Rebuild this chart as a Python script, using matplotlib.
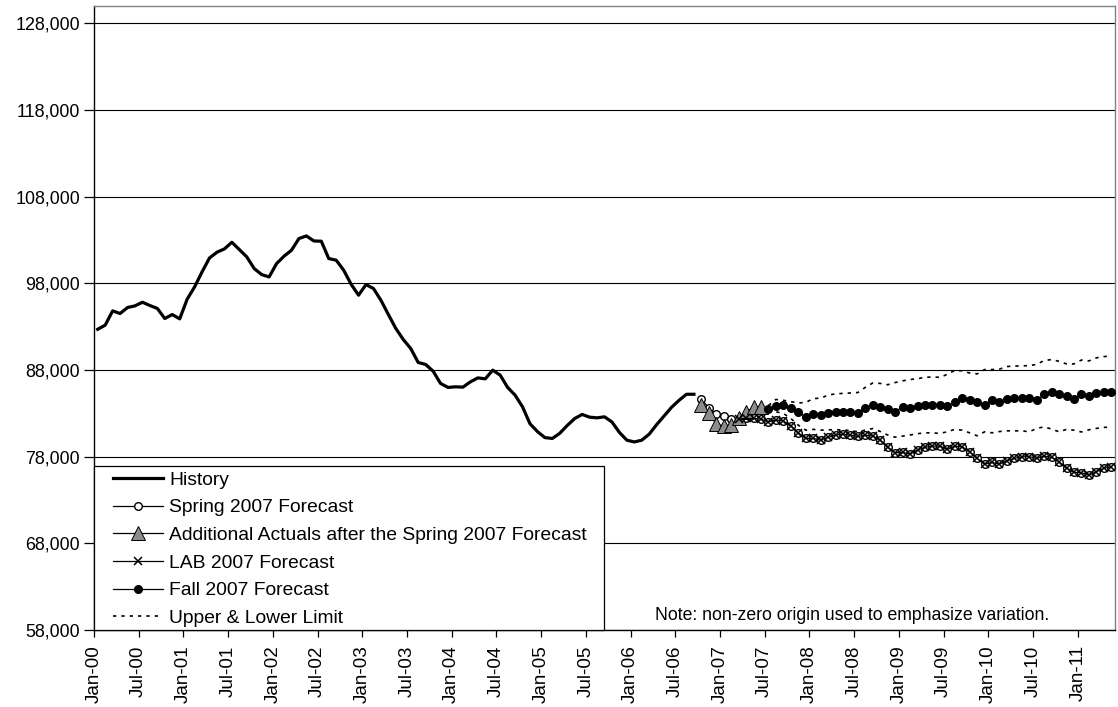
import matplotlib
matplotlib.use("Agg")
import matplotlib.pyplot as plt
from matplotlib.patches import Rectangle
import pandas as pd

plt.rcParams['font.family'] = ['Liberation Sans', 'DejaVu Sans']

# ---- Data ----
months = pd.date_range("2000-01-01", periods=137, freq="MS")
month_labels = [d.strftime("%b-%y") for d in months]

history_start = 0
history = [92700, 93170, 94820, 94520, 95210, 95400, 95820, 95440, 95100, 93940,
           94400, 93900, 96170, 97590, 99320, 100930, 101590, 101970, 102740, 101900,
           101050, 99700, 99010, 98740, 100280, 101130, 101820, 103170, 103470, 102890,
           102860, 100860, 100670, 99520, 97900, 96630, 97860, 97400, 96050, 94400,
           92790, 91520, 90480, 88870, 88640, 87870, 86450, 85990, 86060, 86020,
           86630, 87090, 86980, 87980, 87410, 85990, 85100, 83750, 81800, 80900,
           80200, 80100, 80700, 81600, 82400, 82870, 82560, 82480, 82600, 82000,
           80800, 79900, 79700, 79900, 80600, 81700, 82700, 83700, 84500, 85200,
           85200]

spring_start = 81
spring_2007 = [84600, 83650, 82900, 82700, 82300, 82350, 82410, 82410, 82330, 82020,
               82220, 82140, 81530, 80750, 80110, 80110, 79910, 80220, 80490, 80600,
               80490, 80330, 80490, 80370, 79910, 79070, 78450, 78490, 78300, 78760,
               79070, 79220, 79220, 78840, 79220, 79140, 78560, 77800, 77140, 77340,
               77140, 77520, 77800, 77990, 77990, 77800, 78070, 77920, 77410, 76650,
               76190, 76140, 75870, 76260, 76650, 76830]

actuals_start = 81
additional_actuals = [83950, 83000, 81760, 81530, 81640, 82410, 83180, 83680, 83680]

lab_start = 86
lab_2007 = [82350, 82410, 82410, 82330, 82020,
            82220, 82140, 81530, 80750, 80110, 80110, 79910, 80220, 80490, 80600,
            80490, 80330, 80490, 80370, 79910, 79070, 78450, 78490, 78300, 78760,
            79070, 79220, 79220, 78840, 79220, 79140, 78560, 77800, 77140, 77340,
            77140, 77520, 77800, 77990, 77990, 77800, 78070, 77920, 77410, 76650,
            76190, 76140, 75870, 76260, 76650, 76830]

fall_start = 90
fall_2007 = [83490, 83900, 83950, 83570, 83180, 82560, 82950, 82800, 83080, 83180,
             83180, 83180, 83060, 83620, 83950, 83750, 83450, 83180, 83750, 83570,
             83830, 84000, 83950, 83950, 83830, 84330, 84720, 84520, 84260, 83950,
             84520, 84330, 84600, 84720, 84720, 84720, 84520, 85180, 85410, 85220,
             84980, 84640, 85220, 84980, 85300, 85410, 85410]

limits_start = 90
upper_limit = [83900, 84600, 84500, 84350, 84200, 84250, 84700, 84750, 85100, 85250,
               85300, 85350, 85400, 86000, 86500, 86450, 86300, 86550, 86750, 86900,
               87000, 87150, 87200, 87150, 87500, 87950, 87900, 87650, 87550, 88050,
               88050, 88100, 88400, 88450, 88480, 88500, 88650, 89100, 89200, 89000,
               88700, 88700, 89150, 89050, 89400, 89550, 89600]
lower_limit = [83500, 83180, 82990, 82410, 81640, 81060, 81150, 81060, 81100, 81100,
               81100, 81000, 80870, 81060, 81250, 80900, 80500, 80250, 80370, 80500,
               80650, 80750, 80750, 80680, 80870, 81150, 81060, 80750, 80410, 80870,
               80750, 80900, 80980, 80980, 80980, 80870, 81260, 81440, 81180, 80870,
               81150, 81060, 80850, 81100, 81260, 81380, 81400]

y_ticks = [58000, 68000, 78000, 88000, 98000, 108000, 118000, 128000]

# ---- Figure ----
W, H = 1118, 707
AX_L, AX_R, AX_T, AX_B = 94, 1115, 6, 630
FS = 13.9
fig = plt.figure(figsize=(W / 100, H / 100), dpi=100)
ax = fig.add_axes([AX_L / W, 1 - AX_B / H, (AX_R - AX_L) / W, (AX_B - AX_T) / H])
AW, AH = AX_R - AX_L, AX_B - AX_T

def xs(start, vals):
    return list(range(start, start + len(vals)))

ax.plot(xs(history_start, history), history, color='black', lw=2.3,
        solid_joinstyle='round', label='History', zorder=3)
ax.plot(xs(spring_start, spring_2007), spring_2007, color='black', lw=0.9,
        marker='o', markersize=5.5, markerfacecolor='white', markeredgecolor='black',
        markeredgewidth=1.0, label='Spring 2007 Forecast', zorder=4)
ax.plot(xs(actuals_start, additional_actuals), additional_actuals, color='black', lw=0.9,
        marker='^', markersize=10, markerfacecolor='#8c8c8c', markeredgecolor='black',
        markeredgewidth=0.7, label='Additional Actuals after the Spring 2007 Forecast', zorder=5)
ax.plot(xs(lab_start, lab_2007), lab_2007, color='black', lw=0.9,
        marker='x', markersize=5.5, markeredgewidth=1.1,
        label='LAB 2007 Forecast', zorder=6)
ax.plot(xs(fall_start, fall_2007), fall_2007, color='black', lw=0.9,
        marker='o', markersize=5.5, markerfacecolor='black', markeredgecolor='black',
        label='Fall 2007 Forecast', zorder=7)
ax.plot(xs(limits_start, upper_limit), upper_limit, color='black', lw=1.2,
        ls=(0, (2, 3)), label='Upper & Lower Limit', zorder=4)
ax.plot(xs(limits_start, lower_limit), lower_limit, color='black', lw=1.2,
        ls=(0, (2, 3)), zorder=4)

# axes
ax.set_ylim(58000, 130000)
ax.set_yticks(y_ticks)
ax.set_yticklabels([f"{v:,}" for v in y_ticks])
ax.yaxis.grid(True, color='black', lw=0.8)
ax.set_axisbelow(True)

n = len(month_labels)
ax.set_xlim(-0.5, n - 0.5)
tick_idx = list(range(0, n, 6))
ax.set_xticks([i - 0.5 for i in tick_idx])
ax.set_xticklabels([month_labels[i] for i in tick_idx], rotation=90)

ax.tick_params(axis='both', direction='out', width=0.9, colors='black')
ax.tick_params(axis='x', labelsize=13.6, length=5, pad=6)
ax.tick_params(axis='y', labelsize=12.9, length=7, pad=3)
for s in ['top', 'right']:
    ax.spines[s].set_color('#808080')
    ax.spines[s].set_linewidth(1.0)
for s in ['left', 'bottom']:
    ax.spines[s].set_color('black')
    ax.spines[s].set_linewidth(1.0)

# legend frame drawn separately to match the reference box
frame = Rectangle((0, 0), (604 - AX_L) / AW, (AX_B - 466) / AH, transform=ax.transAxes,
                  facecolor='white', edgecolor='black', lw=0.9, zorder=9, clip_on=False)
ax.add_patch(frame)
leg = ax.legend(loc='upper left', bbox_to_anchor=((113 - AX_L) / AW, (AX_B - 471) / AH),
                borderaxespad=0, borderpad=0, fontsize=FS, frameon=False,
                handlelength=2.6, handletextpad=0.31, labelspacing=0.53)
leg.set_zorder(10)

ax.text((852 - AX_L) / AW, (AX_B - 624) / AH, "Note: non-zero origin used to emphasize variation.",
        transform=ax.transAxes, ha='center', va='bottom', fontsize=12.7, zorder=11)

fig.savefig("out.png", dpi=100)
